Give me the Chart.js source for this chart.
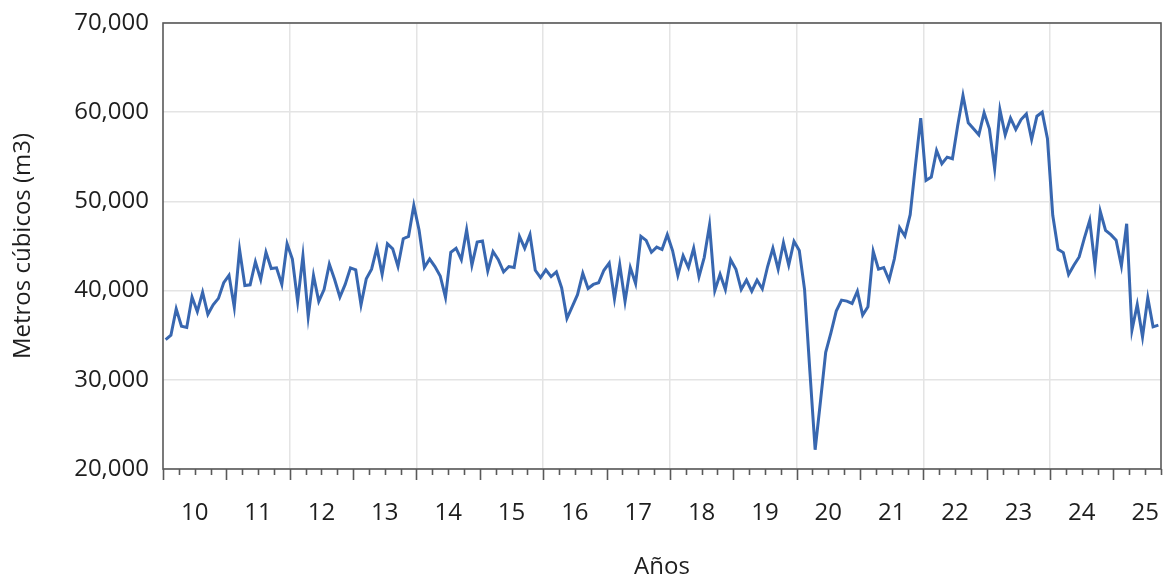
<!DOCTYPE html>
<html>
<head>
<meta charset="utf-8">
<script src="https://cdn.jsdelivr.net/npm/chart.js@4.4.1/dist/chart.umd.min.js"></script>
<style>
  body { margin: 0; background: #fff; }
  #wrap { width: 1165px; height: 581px; }
</style>
</head>
<body>
<div id="wrap"><canvas id="chart"></canvas></div>
<script>
// monthly volume, Jan 2010 .. Sep 2025
var volumes = [
	34500, 35000, 37950, 36000, 35860, 39280, 37640, 39800, 37340, 38400, 39130, 40880,
	41710, 38140, 44600, 40570, 40650, 43230, 41250, 44300, 42470, 42550, 40690, 45250,
	43540, 38790, 43900, 37070, 41710, 38790, 40120, 42970, 41250, 39280, 40690, 42550,
	42320, 38400, 41330, 42400, 44790, 41830, 45250, 44680, 42700, 45820, 46080, 49540,
	46770, 42590, 43540, 42700, 41640, 39240, 44300, 44750, 43460, 46810, 42860, 45440,
	45550, 42210, 44380, 43460, 42090, 42700, 42590, 46080, 44750, 46270, 42280, 41450,
	42320, 41560, 42090, 40300, 36880, 38210, 39540, 41940, 40230, 40690, 40880, 42280,
	43080, 39090, 42890, 38790, 42590, 40800, 46080, 45630, 44300, 44870, 44600, 46270,
	44490, 41710, 43920, 42590, 44750, 41560, 43730, 47340, 40000, 41830, 40120, 43460,
	42400, 40120, 41180, 39930, 41180, 40190, 42700, 44750, 42400, 45360, 42860, 45520,
	44490, 40120, 31000, 22160, 27530, 33080, 35300, 37700, 38930, 38820, 38560, 39930,
	37260, 38190, 44410, 42400, 42590, 41180, 43540, 47060, 46120, 48510, 54030, 59330,
	52350, 52730, 55710, 54220, 54960, 54780, 58510, 61870, 58810, 58140, 57460, 59930,
	58140, 53660, 60260, 57460, 59330, 58060, 59180, 59810, 56940, 59550, 60000, 57020,
	48440, 44630, 44260, 41800, 42840, 43770, 45900, 47880, 42770, 48880, 46760, 46270,
	45640, 42770, 47500, 35560, 38440, 34820, 39180, 35940, 36130
];
var yearLabels = ['10', '11', '12', '13', '14', '15', '16', '17', '18', '19', '20', '21', '22', '23', '24', '25'];
var yTicks = [20000, 30000, 40000, 50000, 60000, 70000];
var totalMonths = 189;

var textColor = '#1e1e1e';
var frameColor = '#595959';
var gridColor = '#e4e4e4';

// frame box + tick marks under the x axis (long on years, short on quarters)
var axisMarks = {
	id: 'axisMarks',
	afterDraw: function (chart) {
		var ctx = chart.ctx;
		var a = chart.chartArea;
		var x = chart.scales.x;
		ctx.save();
		ctx.strokeStyle = frameColor;
		ctx.lineWidth = 1.6;
		ctx.strokeRect(a.left, a.top, a.right - a.left, a.bottom - a.top);
		x.ticks.forEach(function (t) {
			var px = Math.round(x.getPixelForValue(t.value)) + 0.5;
			var len = t.value % 12 === 0 ? 11 : 6;
			ctx.beginPath();
			ctx.moveTo(px, a.bottom);
			ctx.lineTo(px, a.bottom + len);
			ctx.stroke();
		});
		ctx.restore();
	}
};

var ctx = document.getElementById('chart').getContext('2d');
var myChart = new Chart(ctx, {
	type: 'line',
	data: {
		datasets: [{
			data: volumes.map(function (v, i) { return { x: i + 0.5, y: v }; }),
			borderColor: '#3867b0',
			borderWidth: 3,
			pointRadius: 0,
			tension: 0,
			fill: false
		}]
	},
	options: {
		responsive: true,
		maintainAspectRatio: false,
		animation: false,
		layout: { padding: { top: 23, right: 4, left: 0, bottom: 0 } },
		plugins: {
			legend: { display: false },
			tooltip: { enabled: false }
		},
		scales: {
			x: {
				type: 'linear',
				min: 0,
				max: totalMonths,
				afterFit: function (scale) { scale.height = 112; },
				border: { display: false },
				grid: {
					drawTicks: true,
					tickLength: 30,
					tickColor: 'transparent',
					lineWidth: 1.5,
					color: function (c) {
						var v = c.tick ? c.tick.value : 0;
						return (v > 0 && v < totalMonths && v % 24 === 0) ? gridColor : 'transparent';
					}
				},
				ticks: {
					stepSize: 3,
					autoSkip: false,
					maxRotation: 0,
					padding: 0,
					color: textColor,
					font: { family: 'Open Sans', size: 24 },
					callback: function (value) {
						if (value % 12 !== 6) return '';
						return yearLabels[(value - 6) / 12] || '';
					}
				},
				title: {
					display: true,
					text: 'Años',
					color: textColor,
					font: { family: 'Open Sans', size: 24 },
					padding: { top: 0, bottom: -1 }
				}
			},
			y: {
				min: yTicks[0],
				max: yTicks[yTicks.length - 1],
				afterFit: function (scale) { scale.width = 163; },
				afterBuildTicks: function (scale) {
					scale.ticks = yTicks.map(function (v) { return { value: v }; });
				},
				border: { display: false },
				grid: { drawTicks: true, tickLength: 14, tickColor: 'transparent', color: gridColor, lineWidth: 1.5 },
				ticks: {
					padding: 0,
					color: textColor,
					font: { family: 'Open Sans', size: 24 },
					callback: function (value) { return value.toLocaleString('en-US'); }
				},
				title: {
					display: true,
					text: 'Metros cúbicos (m3)',
					color: textColor,
					font: { family: 'Open Sans', size: 24 },
					padding: { top: 9, bottom: 0 }
				}
			}
		}
	},
	plugins: [axisMarks]
});
</script>
</body>
</html>
